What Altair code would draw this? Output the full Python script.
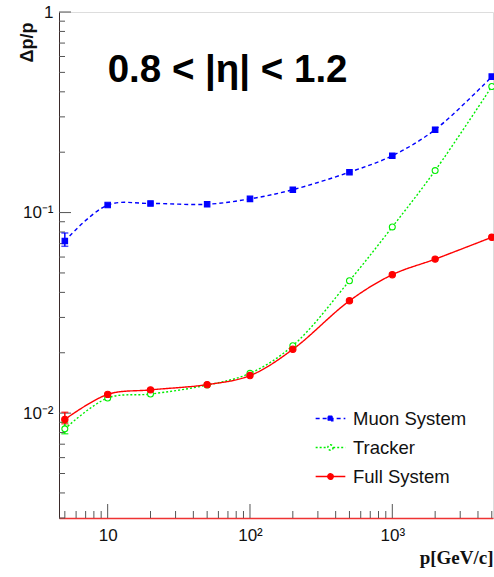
import altair as alt
import pandas as pd

# ---- data ----
momentum = [5, 10, 20, 50, 100, 200, 500, 1000, 2000, 5000]
muon = [0.0722, 0.109, 0.111, 0.110, 0.117, 0.130, 0.159, 0.192, 0.259, 0.476]
tracker = [0.00835, 0.0119, 0.01245, 0.0138, 0.0158, 0.0217, 0.0457, 0.0848, 0.162, 0.425]
full = [0.0093, 0.0124, 0.01306, 0.01387, 0.01539, 0.0208, 0.0363, 0.0490, 0.0586, 0.0753]
series_names = ["Muon System", "Tracker", "Full System"]

err_series = ["Muon System", "Tracker", "Full System"]
err_x = [5, 5, 5]
err_lo = [0.0679, 0.00789, 0.00885]
err_hi = [0.0791, 0.0090, 0.0101]

x_major = [10, 100, 1000]
x_minor = [5, 6, 7, 8, 9, 20, 30, 40, 50, 60, 70, 80, 90,
           200, 300, 400, 500, 600, 700, 800, 900, 2000, 3000, 4000, 5000]
y_major = [0.01, 0.1, 1]
y_minor = [0.003, 0.004, 0.005, 0.006, 0.007, 0.008, 0.009,
           0.02, 0.03, 0.04, 0.05, 0.06, 0.07, 0.08, 0.09,
           0.2, 0.3, 0.4, 0.5, 0.6, 0.7, 0.8, 0.9]

ann_text = ["0.8 < |\u03b7| < 1.2"]
ann_x = [10]
ann_y = [0.45]

# ---- tables ----
rows = []
for name, vals in zip(series_names, [muon, tracker, full]):
    for p, v in zip(momentum, vals):
        rows.append({"p": p, "res": v, "series": name})
df = pd.DataFrame(rows)
err_df = pd.DataFrame({"p": err_x, "lo": err_lo, "hi": err_hi, "series": err_series})
ann_df = pd.DataFrame({"p": ann_x, "res": ann_y, "label": ann_text})

W, H = 434, 506
xscale = alt.Scale(type="log", domain=[4.55, 5100], nice=False)
yscale = alt.Scale(type="log", domain=[0.003, 1], nice=False)

line_colors = ["#0000ff", "#00ee00", "#ff0000"]
fill_colors = ["#0000ff", "#ffffff", "#ff0000"]
dashes = [[4, 3], [2, 2], [1, 0]]
FONT = "Liberation Sans"

xaxis = alt.Axis(
    values=x_major, ticks=False, grid=False,
    labelExpr="datum.value == 10 ? '10' : datum.value == 100 ? '10\u00b2' : '10\u00b3'",
    labelFont=FONT, labelFontSize=17, labelColor="#111111", labelPadding=9,
    domainColor="#ee3333", domainWidth=1.5,
    title="p[GeV/c]", titleFont="Liberation Serif", titleFontWeight="bold",
    titleFontSize=19, titleColor="#111111", titleX=W, titleY=45,
    titleAlign="right", titleBaseline="alphabetic", titleAnchor="end",
)
yaxis = alt.Axis(
    values=y_major, ticks=False, grid=False,
    labelExpr="datum.value == 1 ? '1' : datum.value == 0.1 ? '10\u207b\u00b9' : '10\u207b\u00b2'",
    labelFont=FONT, labelFontSize=17, labelColor="#111111", labelPadding=6,
    domainColor="#3a2a2a", domainWidth=1,
    title="\u0394p/p", titleFont=FONT, titleFontWeight="bold", titleFontSize=18,
    titleColor="#111111", titleAngle=270, titleX=-27, titleY=10,
    titleAlign="right", titleBaseline="alphabetic",
)

base = alt.Chart(df)

lines = base.mark_line(interpolate="catmull-rom", strokeWidth=1.4).encode(
    x=alt.X("p:Q", scale=xscale, axis=xaxis),
    y=alt.Y("res:Q", scale=yscale, axis=yaxis),
    color=alt.Color("series:N", scale=alt.Scale(domain=series_names, range=line_colors), legend=None),
    strokeDash=alt.StrokeDash("series:N", scale=alt.Scale(domain=series_names, range=dashes), legend=None),
    detail="series:N",
)

points = base.mark_point(filled=True, opacity=1, strokeWidth=1.1).encode(
    x=alt.X("p:Q", scale=xscale),
    y=alt.Y("res:Q", scale=yscale),
    shape=alt.Shape("series:N", scale=alt.Scale(domain=series_names, range=["square", "circle", "circle"]), legend=None),
    fill=alt.Fill("series:N", scale=alt.Scale(domain=series_names, range=fill_colors), legend=None),
    stroke=alt.Stroke("series:N", scale=alt.Scale(domain=series_names, range=line_colors), legend=None),
    size=alt.Size("series:N", scale=alt.Scale(domain=series_names, range=[30, 40, 30]), legend=None),
)

# legend-only layer: symbols combine line + marker
sym_square = "M-1.1,0H1.1M-0.17,-0.17H0.17V0.17H-0.17Z"
sym_circle = "M-1.1,0H-0.2M0.2,0H1.1M0.2,0A0.2,0.2 0 1 1 -0.2,0A0.2,0.2 0 1 1 0.2,0Z"
leg = alt.Legend(
    orient="none", legendX=257, legendY=392, title=None,
    symbolSize=729, symbolStrokeWidth=1.5, symbolOpacity=1,
    labelFont=FONT, labelFontSize=18.5, labelColor="#111111", labelOffset=8,
    rowPadding=5, padding=0,
)
legend_layer = base.mark_point(filled=True, opacity=0).encode(
    x=alt.X("p:Q", scale=xscale),
    y=alt.Y("res:Q", scale=yscale),
    shape=alt.Shape("series:N", scale=alt.Scale(domain=series_names, range=[sym_square, sym_circle, sym_circle]), legend=leg),
    fill=alt.Fill("series:N", scale=alt.Scale(domain=series_names, range=fill_colors), legend=leg),
    stroke=alt.Stroke("series:N", scale=alt.Scale(domain=series_names, range=line_colors), legend=leg),
    strokeDash=alt.StrokeDash("series:N", scale=alt.Scale(domain=series_names, range=dashes), legend=leg),
)

errs = alt.Chart(err_df).mark_errorbar(ticks={"size": 7}, thickness=1.5).encode(
    x=alt.X("p:Q", scale=xscale),
    y=alt.Y("lo:Q", scale=yscale, title=""),
    y2="hi:Q",
    color=alt.Color("series:N", scale=alt.Scale(domain=series_names, range=line_colors), legend=None),
)

tick_color = "#555555"
xmaj = alt.Chart(pd.DataFrame({"v": x_major})).mark_rule(color=tick_color, strokeWidth=1).encode(
    x=alt.X("v:Q", scale=xscale), y=alt.value(H), y2=alt.value(H - 14))
xmin = alt.Chart(pd.DataFrame({"v": x_minor})).mark_rule(color=tick_color, strokeWidth=1).encode(
    x=alt.X("v:Q", scale=xscale), y=alt.value(H), y2=alt.value(H - 7))
ymaj = alt.Chart(pd.DataFrame({"v": y_major})).mark_rule(color=tick_color, strokeWidth=1).encode(
    y=alt.Y("v:Q", scale=yscale), x=alt.value(0), x2=alt.value(12))
ymin = alt.Chart(pd.DataFrame({"v": y_minor})).mark_rule(color=tick_color, strokeWidth=1).encode(
    y=alt.Y("v:Q", scale=yscale), x=alt.value(0), x2=alt.value(6))

ann = alt.Chart(ann_df).mark_text(
    font=FONT, fontWeight="bold", fontSize=38.5, align="left", baseline="alphabetic", color="#000000"
).encode(x=alt.X("p:Q", scale=xscale), y=alt.Y("res:Q", scale=yscale), text="label:N")

chart = alt.layer(lines, xmaj, xmin, ymaj, ymin, errs, points, legend_layer, ann).properties(
    width=W, height=H,
    autosize=alt.AutoSizeParams(type="none"),
    padding={"left": 59, "top": 12, "right": 1, "bottom": 59},
).resolve_scale(
    shape="independent", fill="independent", stroke="independent",
    strokeDash="independent", size="independent",
).resolve_legend(
    shape="independent", fill="independent", stroke="independent",
    strokeDash="independent", size="independent",
).configure_view(
    stroke="#b07070", strokeWidth=1
).configure(background="white")

chart.save("out.html", embed_options={"renderer": "svg", "actions": False})
